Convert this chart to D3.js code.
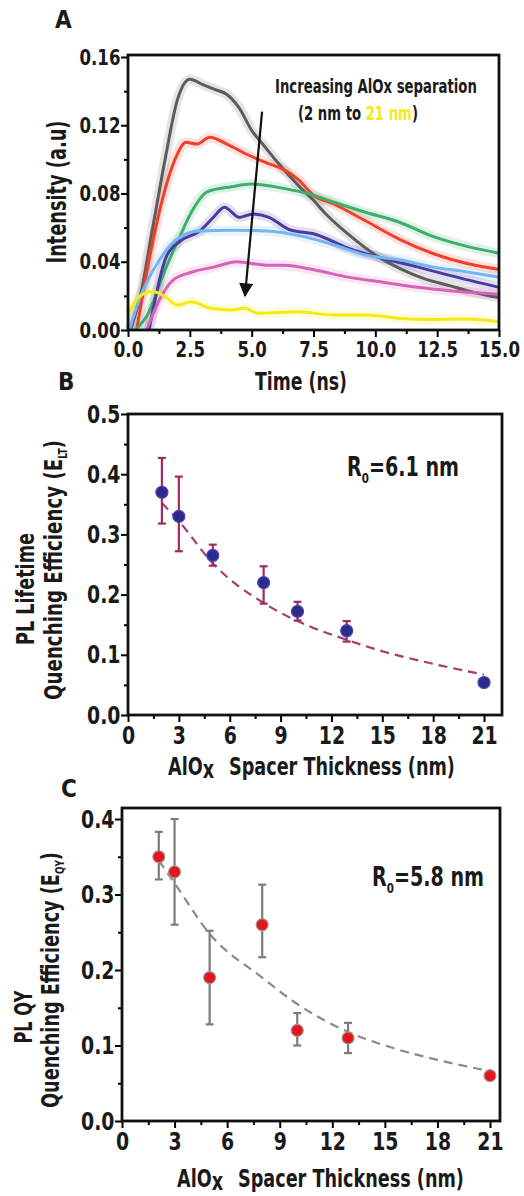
<!DOCTYPE html>
<html>
<head>
<meta charset="utf-8">
<script src="https://cdn.jsdelivr.net/npm/d3@7"></script>
<style>
  body { margin: 0; background: #fff; }
  svg text { font-family: "Liberation Sans Narrow", "DejaVu Sans Condensed", "Open Sans", sans-serif; font-weight: bold; fill: #1a1a1a; }
</style>
</head>
<body>
<svg id="fig" width="524" height="1196"></svg>
<script>
////////////////////////////////////////////
// DATA
////////////////////////////////////////////

// panel A: smoothed decay traces, [time ns, intensity]
const grayTrace   = [[0.1,0],[0.5,0.02],[1.0,0.06],[1.5,0.1],[2.0,0.135],[2.5,0.147],[3.0,0.144],[3.5,0.141],[4.0,0.138],[4.5,0.13],[5.0,0.117],[5.5,0.108],[6.0,0.099],[7.0,0.083],[7.5,0.076],[8.0,0.068],[9.0,0.055],[10,0.044],[11,0.036],[12,0.03],[13,0.026],[14,0.022],[15,0.019]];
const redTrace    = [[0.35,0],[0.8,0.037],[1.4,0.077],[1.9,0.1],[2.35,0.11],[2.8,0.109],[3.3,0.113],[4.0,0.109],[4.8,0.103],[5.6,0.098],[6.3,0.094],[6.9,0.088],[7.5,0.079],[8.3,0.074],[9.6,0.064],[11,0.053],[12.3,0.045],[13.7,0.039],[15,0.0355]];
const greenTrace  = [[0.3,0],[0.75,0.008],[1.55,0.037],[2.1,0.055],[2.6,0.07],[3.2,0.081],[4.2,0.084],[5.0,0.0855],[6.3,0.083],[7.5,0.079],[8.3,0.075],[9.6,0.069],[11,0.063],[12.3,0.055],[13.7,0.049],[15,0.045]];
const purpleTrace = [[0.85,0],[1.55,0.043],[2.1,0.052],[2.9,0.058],[3.45,0.066],[3.9,0.072],[4.5,0.066],[5.05,0.068],[5.7,0.066],[6.5,0.059],[7.6,0.056],[8.9,0.048],[10.3,0.042],[11.7,0.037],[13,0.032],[15,0.025]];
const blueTrace   = [[0.05,0],[0.45,0.0176],[1.27,0.041],[2.1,0.0545],[2.9,0.058],[4.2,0.0585],[5.6,0.058],[7.0,0.055],[8.3,0.05],[9.6,0.044],[11,0.041],[12.3,0.037],[13.7,0.034],[15,0.031]];
const pinkTrace   = [[0.75,0],[1.27,0.0176],[1.8,0.029],[2.6,0.034],[3.5,0.037],[4.4,0.04],[5.6,0.038],[6.3,0.038],[7.6,0.035],[8.9,0.031],[10.3,0.028],[11.7,0.025],[13,0.023],[15,0.021]];
const yellowTrace = [[0,0.009],[0.45,0.0195],[1.0,0.0225],[1.5,0.0195],[2.0,0.0146],[2.55,0.0165],[3.35,0.0127],[4.2,0.0117],[4.7,0.0127],[5.3,0.0098],[6.9,0.0107],[8.3,0.0088],[9.6,0.0088],[11,0.0068],[12.3,0.0062],[13.7,0.0064],[15,0.0049]];
const traceColors = ["#5c5c5c","#ef4129","#3cb06a","#4b3a9f","#76b6ec","#d563b9","#f4ea1a"];
const xTicksA = [0,2.5,5,7.5,10,12.5,15];
const yTicksA = [0,0.04,0.08,0.12,0.16];

// panel B: lifetime quenching efficiency
const spacerB = [2,3,5,8,10,12.9,21];
const effB    = [0.37,0.33,0.265,0.22,0.172,0.14,0.054];
const errLoB  = [0.318,0.272,0.248,0.185,0.157,0.122,null];
const errHiB  = [0.427,0.396,0.283,0.247,0.188,0.156,null];
const fitB    = [[2,0.352],[3,0.322],[5,0.252],[8,0.186],[10,0.156],[13,0.124],[15,0.106],[18,0.085],[21,0.067]];

// panel C: QY quenching efficiency
const spacerC = [2.1,3,5,8,10,12.9,21];
const effC    = [0.35,0.33,0.19,0.26,0.12,0.11,0.06];
const errLoC  = [0.32,0.26,0.128,0.217,0.10,0.09,null];
const errHiC  = [0.383,0.40,0.252,0.313,0.143,0.13,null];
const fitC    = [[2.1,0.345],[3,0.315],[5,0.248],[8,0.19],[10,0.155],[13,0.117],[15,0.1],[18,0.081],[21,0.066]];

const xTicksBC = [0,3,6,9,12,15,18,21];
const yTicksB = [0,0.1,0.2,0.3,0.4,0.5];
const yTicksC = [0,0.1,0.2,0.3,0.4];

////////////////////////////////////////////
// HELPERS
////////////////////////////////////////////

const svg = d3.select("#fig");

// squeeze a text horizontally (along its own direction) to a given width
function fitText(sel, w){
  let len = sel.node().getComputedTextLength();
  let tr = sel.attr("transform") || "";
  sel.attr("transform", tr + ` scale(${w/len},1)`);
  return sel;
}

function label(g, x, y, size, txt, anchor){
  return g.append("text")
    .attr("transform",`translate(${x},${y})`)
    .attr("text-anchor",anchor || "start")
    .attr("font-size",size).text(txt);
}

function drawAxes(g, x, y, o){
  // minor ticks, outward
  g.append("g").attr("transform", `translate(0,${o.y0})`)
    .call(d3.axisBottom(x).tickValues(o.xMinor).tickSize(4).tickFormat(""))
    .call(a => a.select(".domain").remove())
    .selectAll("line").attr("stroke-width",2);
  let xa = g.append("g").attr("transform", `translate(0,${o.y0})`)
    .call(d3.axisBottom(x).tickValues(o.xTicks).tickSize(7).tickPadding(4).tickFormat(o.xFmt));
  xa.select(".domain").remove();
  xa.selectAll("line").attr("stroke-width",2);
  xa.selectAll("text").attr("font-size",o.fs).attr("fill","#1a1a1a").attr("transform",`scale(${o.sx},1)`);

  g.append("g").attr("transform", `translate(${o.x0},0)`)
    .call(d3.axisLeft(y).tickValues(o.yMinor).tickSize(4).tickFormat(""))
    .call(a => a.select(".domain").remove())
    .selectAll("line").attr("stroke-width",2);
  let ya = g.append("g").attr("transform", `translate(${o.x0},0)`)
    .call(d3.axisLeft(y).tickValues(o.yTicks).tickSize(7).tickPadding(2).tickFormat(o.yFmt));
  ya.select(".domain").remove();
  ya.selectAll("line").attr("stroke-width",2);
  ya.selectAll("text").attr("font-size",o.fs).attr("fill","#1a1a1a").attr("transform",`scale(${o.sx},1)`);
  g.selectAll(".tick text").style("font-family",'"Liberation Sans Narrow","DejaVu Sans Condensed",sans-serif').style("font-weight","bold");

  // frame
  g.append("rect")
    .attr("x",o.x0).attr("y",o.yTop)
    .attr("width",o.x1-o.x0).attr("height",o.y0-o.yTop)
    .attr("fill","none").attr("stroke","#111").attr("stroke-width",2.8);
}

function minorTicks(ticks){
  let out = [];
  for(let i=0;i<ticks.length-1;i++) out.push((ticks[i]+ticks[i+1])/2);
  return out;
}

////////////////////////////////////////////
// PANEL A
////////////////////////////////////////////

{
  const x = d3.scaleLinear().domain([0,15]).range([128,499]);
  const y = d3.scaleLinear().domain([0,0.16]).range([330,57]);
  const g = svg.append("g");
  const traces = [grayTrace,redTrace,greenTrace,purpleTrace,blueTrace,pinkTrace,yellowTrace];

  const line = d3.line().x(d => x(d[0])).y(d => y(d[1])).curve(d3.curveMonotoneX);

  // faded raw-data band behind each trace
  traces.forEach((t,i) => {
    g.append("path").datum(t)
      .attr("d",line).attr("fill","none")
      .attr("stroke",traceColors[i]).attr("stroke-opacity",0.16)
      .attr("stroke-width",10).attr("stroke-linejoin","round");
  });
  traces.forEach((t,i) => {
    g.append("path").datum(t)
      .attr("d",line).attr("fill","none")
      .attr("stroke",traceColors[i]).attr("stroke-width",3)
      .attr("stroke-linejoin","round");
  });

  // white mask below zero
  g.append("rect").attr("x",120).attr("y",331).attr("width",390).attr("height",40).attr("fill","#fff");

  drawAxes(g,x,y,{
    x0:128,x1:499,y0:330,yTop:55,
    xTicks:xTicksA,xMinor:minorTicks(xTicksA),
    yTicks:yTicksA,yMinor:minorTicks(yTicksA),
    xFmt:d3.format(".1f"),yFmt:d3.format(".2f"),fs:22,sx:0.84
  });

  // arrow
  svg.append("defs").append("marker")
    .attr("id","arrowhead").attr("viewBox","0 0 10 10")
    .attr("refX",9).attr("refY",5)
    .attr("markerUnits","userSpaceOnUse").attr("markerWidth",16).attr("markerHeight",14)
    .attr("orient","auto")
    .append("path").attr("d","M0,0 L10,5 L0,10 z").attr("fill","#111");
  g.append("line")
    .attr("x1",x(5.42)).attr("y1",y(0.128))
    .attr("x2",x(4.73)).attr("y2",y(0.02))
    .attr("stroke","#111").attr("stroke-width",2.2)
    .attr("marker-end","url(#arrowhead)");

  fitText(label(g,275,93,20,"Increasing AlOx separation"),202);
  let t2 = g.append("text").attr("transform","translate(298,120)").attr("font-size",20);
  t2.append("tspan").text("(2 nm to ");
  t2.append("tspan").attr("fill","#f4ea1a").style("fill","#f4ea1a").text("21 nm");
  t2.append("tspan").text(")");
  fitText(t2,120);

  fitText(label(g,301,390,25,"Time (ns)","middle"),92);
  let yl = g.append("text").attr("transform","translate(66,192) rotate(-90)")
    .attr("text-anchor","middle").attr("font-size",26).text("Intensity (a.u)");
  fitText(yl,143);
  label(g,55,28,24,"A");
}

////////////////////////////////////////////
// PANELS B & C
////////////////////////////////////////////

function drawScatter(o){
  const x = d3.scaleLinear().domain([0,o.xMax]).range([o.x0,o.x1]);
  const y = d3.scaleLinear().domain([0,o.yMax]).range([o.y0,o.yTop]);
  const g = svg.append("g");

  drawAxes(g,x,y,{
    x0:o.x0,x1:o.x1,y0:o.y0,yTop:o.yTop,
    xTicks:xTicksBC,xMinor:minorTicks(xTicksBC),
    yTicks:o.yTicks,yMinor:minorTicks(o.yTicks),
    xFmt:d3.format("d"),yFmt:d3.format(".1f"),fs:25,sx:0.84
  });

  g.append("path").datum(o.fit)
    .attr("d",d3.line().x(d => x(d[0])).y(d => y(d[1])).curve(d3.curveMonotoneX))
    .attr("fill","none").attr("stroke",o.fitCol).attr("stroke-width",2.2)
    .attr("stroke-dasharray","9,6");

  const pts = o.xs.map((v,i) => ({x:v,y:o.ys[i],lo:o.lo[i],hi:o.hi[i]}));
  const eb = g.selectAll("g.eb").data(pts.filter(d => d.lo !== null)).join("g");
  eb.append("line").attr("x1",d => x(d.x)).attr("x2",d => x(d.x))
    .attr("y1",d => y(d.lo)).attr("y2",d => y(d.hi))
    .attr("stroke",o.errCol).attr("stroke-width",2.2);
  [d => d.lo, d => d.hi].forEach(f => {
    eb.append("line").attr("x1",d => x(d.x)-4).attr("x2",d => x(d.x)+4)
      .attr("y1",d => y(f(d))).attr("y2",d => y(f(d)))
      .attr("stroke",o.errCol).attr("stroke-width",2.2);
  });
  g.selectAll("circle.pt").data(pts).join("circle")
    .attr("cx",d => x(d.x)).attr("cy",d => y(d.y)).attr("r",6)
    .attr("fill",o.ptCol).attr("stroke",o.ptStroke).attr("stroke-width",1.2);

  // R0 annotation
  let r = g.append("text").attr("transform",`translate(${o.rx},${o.ry})`).attr("font-size",26);
  r.append("tspan").text("R");
  r.append("tspan").attr("font-size",14).attr("dy",7).text("0");
  r.append("tspan").attr("dy",-7).text("=" + o.rText);
  fitText(r,112);

  // x title
  let xt = g.append("text").attr("transform",`translate(${o.xtX},${o.xtY})`).attr("font-size",25);
  xt.append("tspan").text("AlO");
  xt.append("tspan").attr("dy",3).text("x");
  xt.append("tspan").attr("dy",-3).text("\u2002 Spacer Thickness (nm)");
  fitText(xt,287);

  // y title (two lines)
  let y1 = g.append("text").attr("transform",`translate(${o.yl1},${o.yc1}) rotate(-90)`)
    .attr("text-anchor","middle").attr("font-size",24).text(o.yLine1);
  fitText(y1,o.w1);
  let yt = g.append("text").attr("transform",`translate(${o.yl2},${o.yc2}) rotate(-90)`)
    .attr("text-anchor","middle").attr("font-size",24);
  yt.append("tspan").text("Quenching Efficiency (E");
  yt.append("tspan").attr("font-size",12).attr("dy",5).text(o.sub);
  yt.append("tspan").attr("dy",-5).text(")");
  fitText(yt,o.w2);
}

drawScatter({
  xMax:22.06,yMax:0.5,x0:128,x1:502,y0:715,yTop:414,
  yTicks:yTicksB,xs:spacerB,ys:effB,lo:errLoB,hi:errHiB,fit:fitB,
  fitCol:"#a83a6e",errCol:"#a3295f",ptCol:"#2d2a8e",ptStroke:"#4a46a8",
  rx:347,ry:476,rText:"6.1 nm",xtX:168,xtY:775,
  yl1:34,yc1:589,yLine1:"PL Lifetime",w1:112,yl2:62,yc2:570,w2:260,sub:"LT"
});
label(svg,58,390,24,"B");

drawScatter({
  xMax:21.57,yMax:0.4146,x0:122,x1:500,y0:1121,yTop:808,
  yTicks:yTicksC,xs:spacerC,ys:effC,lo:errLoC,hi:errHiC,fit:fitC,
  fitCol:"#8a8a8a",errCol:"#7c7c7c",ptCol:"#e8141c",ptStroke:"#9a9a9a",
  rx:372,ry:886,rText:"5.8 nm",xtX:177,xtY:1187,
  yl1:32,yc1:1017,yLine1:"PL QY",w1:53,yl2:59,yc2:980,w2:256,sub:"QY"
});
label(svg,61,797,24,"C");
</script>
</body>
</html>
